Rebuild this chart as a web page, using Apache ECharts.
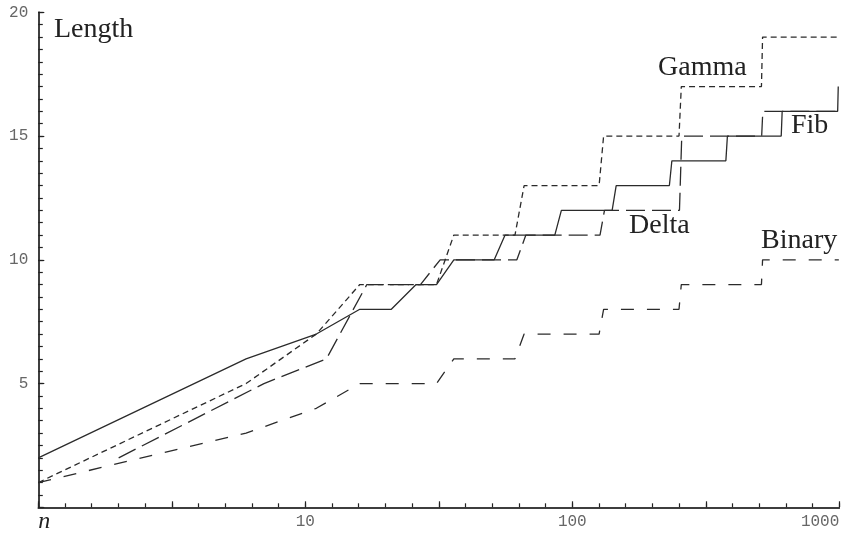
<!DOCTYPE html>
<html>
<head>
<meta charset="utf-8">
<script src="https://cdn.jsdelivr.net/npm/echarts@6/dist/echarts.min.js"></script>
<style>html,body{margin:0;padding:0;background:#fff}#c{width:846px;height:534px}</style>
</head>
<body>
<div id="c"></div>
<script>
// Code lengths (breakpoints of the plotted polylines)
const fibN   = [1,6,11,16,21,26,31,36,51,56,86,91,141,146,231,236,376,381,606,611,986,991,996];
const fibLen = [2,6,7,8,8,9,9,10,10,11,11,12,12,13,13,14,14,15,15,16,16,17,17];
const gammaN   = [1,6,11,16,31,36,61,66,126,131,251,256,511,516,996];
const gammaLen = [1,5,7,9,9,11,11,13,13,15,15,17,17,19,19];
const deltaN   = [2,7,12,17,27,32,62,67,127,132,252,257,512,517,997];
const deltaLen = [2,5,6,9,9,10,10,11,11,12,12,15,15,16,16];
const binaryN   = [1,6,11,16,31,36,61,66,126,131,251,256,511,516,996];
const binaryLen = [1,3,4,5,5,6,6,7,7,8,8,9,9,10,10];
const xTickLabels = {1:'{n|n}', 10:'10', 100:'100', 1000:'1000'};
const yTickLabels = {5:'5', 10:'10', 15:'15', 20:'20'};
const seriesNames = ['Fib','Gamma','Delta','Binary'];

const pairs = (xs, ys) => xs.map((x, i) => [x, ys[i]]);
const ink = '#2b2b2b';
const serif = '"Liberation Serif", "DejaVu Serif", serif';
const mono = '"Liberation Mono", "DejaVu Sans Mono", monospace';

const W = 846, H = 534;
const G = {left: 38.3, right: 6.7, top: 12.3, bottom: 26.7};
const gridW = W - G.left - G.right, gridH = H - G.top - G.bottom;

const chart = echarts.init(document.getElementById('c'), null, {renderer: 'canvas'});
// axes 0 carry labels and major ticks; axes 1 (same ranges, moved onto the same
// edges with a negative offset) carry the fine ticks
const lineSeries = (name, data, dash, ax) => ({
  name, type: 'line', data, xAxisIndex: ax, yAxisIndex: ax,
  showSymbol: false, symbol: 'none', silent: true, animation: false,
  lineStyle: {color: ink, width: 1.3, type: dash}
});
const tickStyle = {color: '#222', width: 1.2};
const axisLineStyle = {color: '#333', width: 1.5};

chart.setOption({
  animation: false,
  grid: Object.assign({containLabel: false, outerBoundsMode: 'none'}, G),
  xAxis: [{
    type: 'log', logBase: 10, min: 1, max: 1000, interval: 0.5, position: 'bottom',
    axisLine: {show: true, onZero: false, lineStyle: axisLineStyle},
    axisTick: {show: true, inside: true, length: 6, lineStyle: tickStyle},
    splitLine: {show: false},
    axisLabel: {
      interval: 0, margin: 6, color: '#666', fontFamily: mono, fontSize: 16,
      alignMinLabel: 'left', alignMaxLabel: 'right',
      formatter: v => {
        const k = Math.round(v);
        return (Math.abs(v - k) < 1e-6 && xTickLabels[k]) ? xTickLabels[k] : '';
      },
      rich: {n: {fontFamily: serif, fontStyle: 'italic', fontSize: 24, lineHeight: 16, color: '#222'}}
    }
  }, {
    type: 'log', logBase: 10, min: 1, max: 1000, interval: 0.1, position: 'top', offset: -gridH,
    axisLine: {show: true, onZero: false, lineStyle: axisLineStyle},
    axisTick: {show: true, inside: false, interval: 0, length: 4, lineStyle: tickStyle},
    axisLabel: {show: false}, splitLine: {show: false}
  }],
  yAxis: [{
    type: 'value', min: 0, max: 20, interval: 5, position: 'left',
    axisLine: {show: true, onZero: false, lineStyle: axisLineStyle},
    axisTick: {show: true, inside: true, length: 6, lineStyle: tickStyle},
    splitLine: {show: false},
    axisLabel: {margin: 10, color: '#666', fontFamily: mono, fontSize: 16,
      formatter: v => yTickLabels[v] || ''}
  }, {
    type: 'value', min: 0, max: 20, interval: 0.5, position: 'right', offset: -gridW,
    axisLine: {show: true, onZero: false, lineStyle: axisLineStyle},
    axisTick: {show: true, inside: false, interval: 0, length: 4.5, lineStyle: tickStyle},
    axisLabel: {show: false}, splitLine: {show: false}
  }],
  series: [
    lineSeries(seriesNames[0], pairs(fibN, fibLen), 'solid', 0),
    lineSeries(seriesNames[1], pairs(gammaN, gammaLen), [6, 4], 1),
    lineSeries(seriesNames[2], pairs(deltaN, deltaLen), [19, 7], 0),
    lineSeries(seriesNames[3], pairs(binaryN, binaryLen), [13, 13], 1)
  ],
  graphic: [
    {type: 'text', left: 54, top: 16, style: {text: 'Length', font: '28px ' + serif, fill: '#222'}},
    {type: 'text', left: 658, top: 54, style: {text: seriesNames[1], font: '28px ' + serif, fill: '#222'}},
    {type: 'text', left: 791, top: 112, style: {text: seriesNames[0], font: '28px ' + serif, fill: '#222'}},
    {type: 'text', left: 629, top: 212, style: {text: seriesNames[2], font: '28px ' + serif, fill: '#222'}},
    {type: 'text', left: 761, top: 227, style: {text: seriesNames[3], font: '28px ' + serif, fill: '#222'}}
  ]
});
</script>
</body>
</html>
